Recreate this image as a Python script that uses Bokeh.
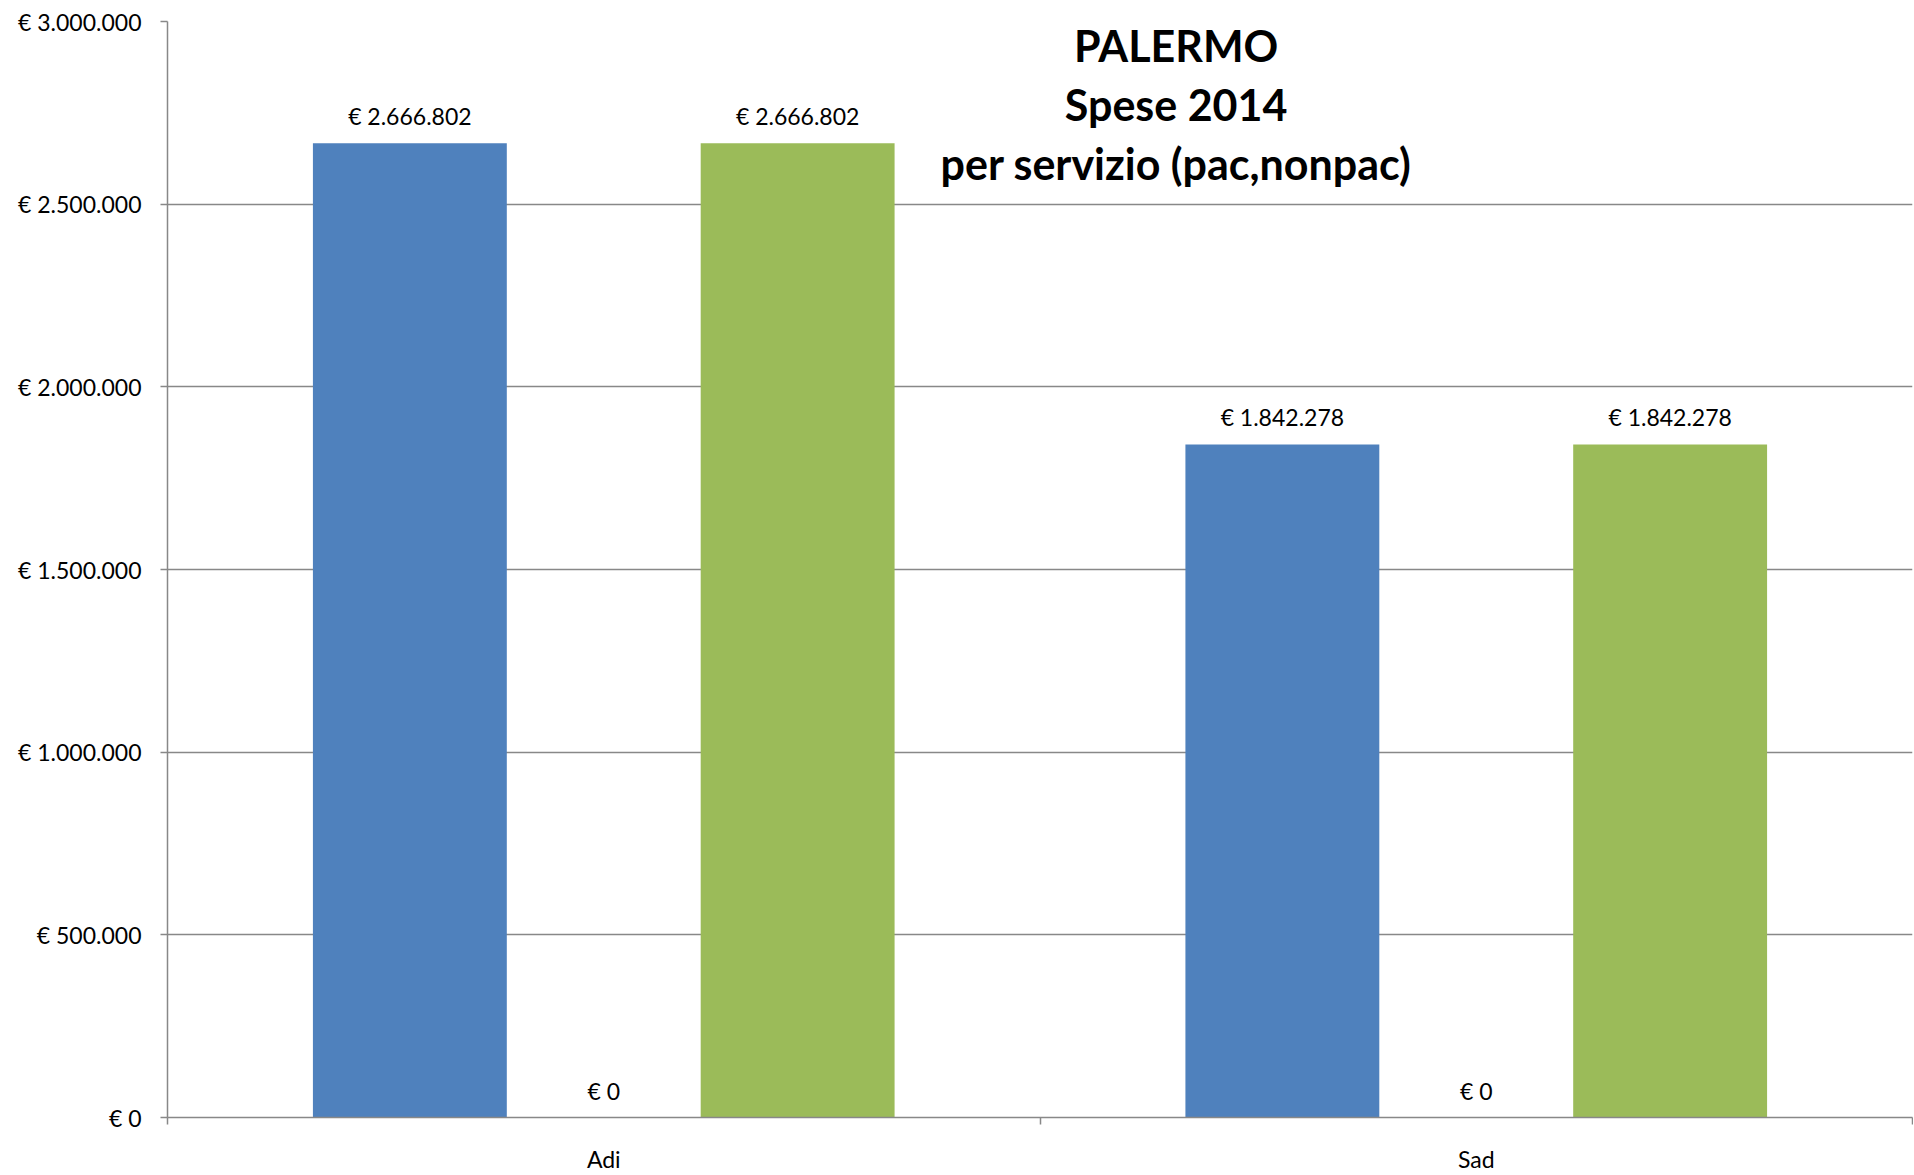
from bokeh.plotting import figure
from bokeh.models import ColumnDataSource, LabelSet, Label, Range1d, FixedTicker
from bokeh.transform import dodge
from bokeh.core.properties import value
from bokeh.embed import file_html
from bokeh.resources import INLINE

# ---- data ----
categories = ["Adi", "Sad"]
series_names = ["pac", "nonpac", "totale"]
pac = [2666802, 1842278]
nonpac = [0, 0]
totale = [2666802, 1842278]
series_colors = ["#4F81BD", "#C0504D", "#9BBB59"]
y_ticks = [0, 500000, 1000000, 1500000, 2000000, 2500000, 3000000]
title_lines = ["PALERMO", "Spese 2014", "per servizio (pac,nonpac)"]


def euro(v):
    return "€ " + f"{int(v):,}".replace(",", ".")


FONT = "Lato"
FS = "23px"
n_cat = len(categories)
n_ser = len(series_names)
bar_w = 1.0 / (n_ser + 1.5)  # Excel gap width 150%

xpos = [i + 0.5 for i in range(n_cat)]
data = dict(x=xpos, cat=categories)
for name, vals in zip(series_names, [pac, nonpac, totale]):
    data[name] = vals
    data[name + "_lbl"] = [euro(v) for v in vals]
src = ColumnDataSource(data)

p = figure(width=1913, height=1175, output_backend="svg", toolbar_location=None,
           x_range=Range1d(0, n_cat), y_range=Range1d(0, y_ticks[-1]))
p.min_border_left = 167
p.min_border_top = 21
p.min_border_right = 1
p.min_border_bottom = 57
p.outline_line_color = None
p.background_fill_color = "white"
p.border_fill_color = "white"

for k, name in enumerate(series_names):
    off = (k - (n_ser - 1) / 2) * bar_w
    p.vbar(x=dodge("x", off), top=name, width=bar_w, source=src,
           fill_color=series_colors[k], line_color=None)
    lbl = LabelSet(x=dodge("x", off), y=name, text=name + "_lbl", source=src,
                   text_align="center", text_baseline="alphabetic", y_offset=18,
                   text_font=value(FONT), text_font_size=value(FS),
                   text_color="black")
    p.add_layout(lbl)

# axes
p.xgrid.grid_line_color = None
p.ygrid.grid_line_color = "#888888"
p.ygrid.grid_line_width = 1.5

p.yaxis.ticker = FixedTicker(ticks=y_ticks)
p.yaxis.major_label_overrides = {v: euro(v) for v in y_ticks}
p.yaxis.minor_tick_line_color = None
p.yaxis.major_tick_out = 7
p.yaxis.major_tick_in = 0
p.yaxis.major_label_standoff = 19
p.yaxis.axis_line_color = "#888888"
p.yaxis.axis_line_width = 1.5
p.yaxis.major_tick_line_color = "#888888"
p.yaxis.major_tick_line_width = 1.5
p.yaxis.major_label_text_font = FONT
p.yaxis.major_label_text_font_size = FS
p.yaxis.major_label_text_color = "black"

p.xaxis.ticker = FixedTicker(ticks=xpos, minor_ticks=list(range(n_cat + 1)))
p.xaxis.major_label_overrides = {x: c for x, c in zip(xpos, categories)}
p.xaxis.major_tick_line_color = None
p.xaxis.minor_tick_out = 7
p.xaxis.minor_tick_in = 0
p.xaxis.minor_tick_line_color = "#888888"
p.xaxis.minor_tick_line_width = 1.5
p.xaxis.axis_line_color = "#888888"
p.xaxis.axis_line_width = 1.5
p.xaxis.major_label_standoff = 20
p.xaxis.major_label_text_font = FONT
p.xaxis.major_label_text_font_size = FS
p.xaxis.major_label_text_color = "black"

# title inside plot area
title_x = 1.156
for i, t in enumerate(title_lines):
    p.add_layout(Label(x=title_x, y=y_ticks[-1], text=t, y_offset=-(24 + 59 * i),
                       text_align="center", text_baseline="alphabetic",
                       text_font=FONT, text_font_style="bold", text_font_size="43px",
                       text_color="black"))

open("out.html", "w").write(file_html(p, INLINE))
